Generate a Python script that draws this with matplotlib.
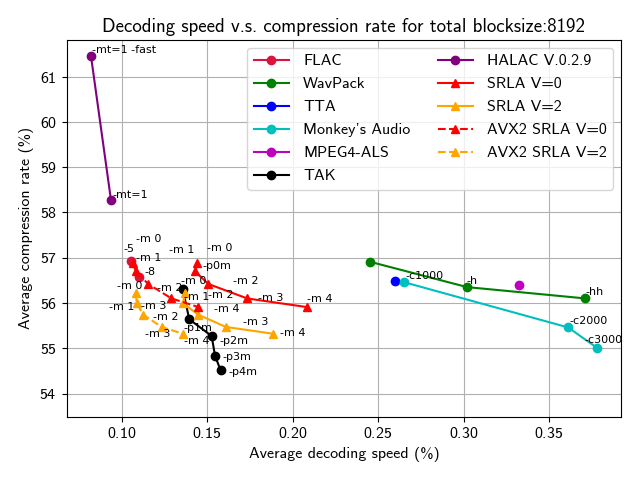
import matplotlib
matplotlib.use("Agg")
import matplotlib.pyplot as plt

# --- data ---
m_labels = ["-m 0", "-m 1", "-m 2", "-m 3", "-m 4"]

flac_x = [0.1057, 0.1100]
flac_y = [56.93, 56.57]
flac_lab = ["-5", "-8"]

wavpack_x = [0.2452, 0.3021, 0.3713]
wavpack_y = [56.91, 56.35, 56.10]
wavpack_lab = ["", "-h", "-hh"]

tta_x = [0.2598]
tta_y = [56.49]

monkey_x = [0.2651, 0.3612, 0.3781]
monkey_y = [56.46, 55.46, 55.01]
monkey_lab = ["-c1000", "-c2000", "-c3000"]

als_x = [0.3325]
als_y = [56.40]

tak_x = [0.1357, 0.1395, 0.1526, 0.1546, 0.1579]
tak_y = [56.30, 55.64, 55.27, 54.83, 54.51]
tak_lab = ["-p0m", "-p1m", "-p2m", "-p3m", "-p4m"]

halac_x = [0.0820, 0.0937]
halac_y = [61.45, 58.27]
halac_lab = ["-mt=1 -fast", "-mt=1"]

srla0_x = [0.1439, 0.1429, 0.1506, 0.1734, 0.2082]
srla0_y = [56.89, 56.70, 56.42, 56.10, 55.91]
srla2_x = [0.1370, 0.1360, 0.1448, 0.1610, 0.1887]
srla2_y = [56.21, 55.99, 55.74, 55.47, 55.32]
avx0_x = [0.1063, 0.1084, 0.1154, 0.1291, 0.1448]
avx0_y = srla0_y
avx2_x = [0.1082, 0.1088, 0.1126, 0.1234, 0.1357]
avx2_y = srla2_y

# label offsets (pixels), tuned to where the labels sit in the picture
flac_off = [(-8, 12), (6, 5)]
wavpack_off = [(0, 6), (-1, 6), (0, 6)]
monkey_off = [(2, 6), (1, 6), (-13, 8)]
tak_off = [(20, 23), (-6, -9), (8, -5), (7, -1), (8, -2)]
halac_off = [(1, 6), (1, 5)]
srla0_off = [(10, 15), (-26, 21), (25, 3), (11, 0), (0, 8)]
srla2_off = [(-4, 12), (1, 6), (10, 20), (17, 5), (7, 1)]
avx0_off = [(3, 24), (0, 13), (9, -4), (-30, -8), (16, -2)]
avx2_off = [(-19, 7), (-28, -4), (10, -2), (-17, -7), (1, -7)]

plt.rcParams["font.family"] = "cmss10"
plt.rcParams["axes.formatter.use_mathtext"] = True

fig, ax = plt.subplots(figsize=(6.4, 4.8), dpi=100)
fig.subplots_adjust(left=0.104, right=0.971, top=0.917, bottom=0.132)

series = [
    ("FLAC", flac_x, flac_y, "crimson", "o", "-", flac_lab, flac_off),
    ("WavPack", wavpack_x, wavpack_y, "green", "o", "-", wavpack_lab, wavpack_off),
    ("TTA", tta_x, tta_y, "blue", "o", "-", [""], [(0, 0)]),
    ("Monkey's Audio", monkey_x, monkey_y, "c", "o", "-", monkey_lab, monkey_off),
    ("MPEG4-ALS", als_x, als_y, "m", "o", "-", [""], [(0, 0)]),
    ("TAK", tak_x, tak_y, "black", "o", "-", tak_lab, tak_off),
    ("HALAC V.0.2.9", halac_x, halac_y, "purple", "o", "-", halac_lab, halac_off),
    ("SRLA V=0", srla0_x, srla0_y, "red", "^", "-", m_labels, srla0_off),
    ("SRLA V=2", srla2_x, srla2_y, "orange", "^", "-", m_labels, srla2_off),
    ("AVX2 SRLA V=0", avx0_x, avx0_y, "red", "^", "--", m_labels, avx0_off),
    ("AVX2 SRLA V=2", avx2_x, avx2_y, "orange", "^", "--", m_labels, avx2_off),
]

for name, xs, ys, col, mk, ls, labs, offs in series:
    ax.plot(xs, ys, color=col, marker=mk, ls=ls, label=name)
    for x, y, t, (dx, dy) in zip(xs, ys, labs, offs):
        if t:
            ax.annotate(t, (x, y), xytext=(dx, dy), textcoords="offset pixels",
                        ha="left", va="center", fontsize=8, family="DejaVu Sans")

ax.set_xlim(0.0677, 0.3924)
ax.set_ylim(53.49, 61.81)
ax.set_title("Decoding speed v.s. compression rate for total blocksize:8192", fontsize=13.6)
ax.set_xlabel("Average decoding speed (%)", fontsize=11.5)
ax.set_ylabel("Average compression rate (%)", fontsize=11.5)
ax.tick_params(labelsize=11.5)
ax.grid(True)
ax.legend(ncol=2, loc="upper right", fontsize=11.5, handlelength=2.2,
          labelspacing=0.55, columnspacing=1.7, handletextpad=0.9,
          borderaxespad=0.5)

fig.savefig("out.png", dpi=100)
